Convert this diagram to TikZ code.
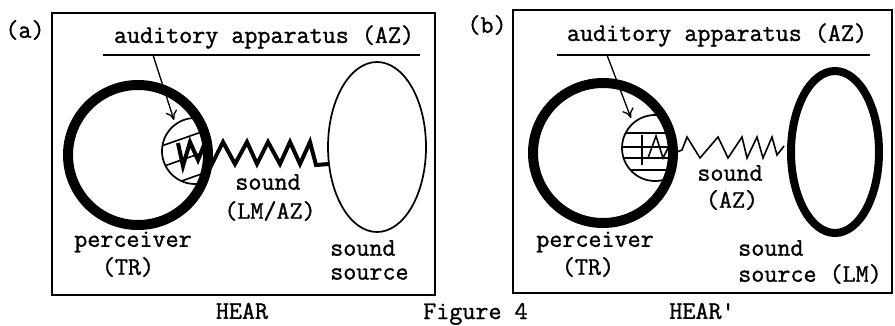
\documentclass[tikz,border=0pt]{standalone}
\usepackage{fontspec}
\newfontfamily\twfont{Latin Modern Mono}[FakeBold=1.2]
\usetikzlibrary{arrows.meta}
\begin{document}
\begin{tikzpicture}[x=0.75pt,y=-0.75pt,
  lbl/.style={font=\twfont\fontsize{19}{21}\selectfont, inner sep=0pt},
  frame/.style={line width=1.8pt},
  uline/.style={line width=1.5pt},
  thickring/.style={line width=7.5pt},
  thinline/.style={line width=1.3pt},
  hatch/.style={line width=1.2pt},
  ptr/.style={line width=1pt,-{To[length=7pt,width=9pt,line width=1pt]}},
  wavea/.style={line width=3pt,line join=miter},
  waveb/.style={line width=1.2pt,line join=miter}]
\useasboundingbox (0,0) rectangle (895,325);

% ---------------- panel (a) ----------------
\node[lbl] (la) at (25,30) {(a)};
\draw[frame] (52,13) rectangle (435,295);
\node[lbl] (aza) at (264,37) {auditory apparatus (AZ)};
\coordinate (ula) at (103,55);
\coordinate (ura) at (420,55);
\draw[uline] (ula) -- (ura);
\coordinate (tra) at (138,155);
\coordinate (hca) at (195,151);
\coordinate (ssa) at (377,147);
\begin{scope}
  \clip (tra) circle[radius=66];
  \draw[thinline] (hca) circle[radius=33];
  \clip (hca) circle[radius=33];
  \foreach \c in {128,150,171,192}
    \draw[hatch] (150,\c) -- (230,\c-28);
\end{scope}
\draw[thickring] (tra) circle[radius=70];
\draw[thinline] (ssa) ellipse[x radius=49, y radius=85];
\coordinate (pa) at (153,55);
\coordinate (ta) at (174,120);
\draw[ptr] (pa) -- (ta);
\draw[wavea] (178,143) -- (183,166) -- (190,142) -- (198,160) -- (204,145)
  -- (212,164) -- (223,142) -- (235,164) -- (247,142) -- (257,164)
  -- (268,142) -- (280,164) -- (290,142) -- (300,164) -- (310,142)
  -- (316,165) -- (329,164);
\node[lbl] (sda) at (268,182) {sound};
\node[lbl] (lma) at (270,211) {(LM/AZ)};
\node[lbl] (pera) at (133,242) {perceiver};
\node[lbl] (tra-l) at (128,267) {(TR)};
\node[lbl,anchor=west] (ss1a) at (330,248) {sound};
\node[lbl,anchor=west] (ss2a) at (330,274) {source};
\node[lbl] (heara) at (242,311) {HEAR};
\node[lbl,anchor=base west] (fig) at (423,319) {Figure 4};

% ---------------- panel (b) ----------------
\node[lbl] (lb) at (487,25) {(b)};
\draw[frame] (513,10) rectangle (892,293);
\node[lbl] (azb) at (717,35) {auditory apparatus (AZ)};
\coordinate (ulb) at (557,55);
\coordinate (urb) at (870,55);
\draw[uline] (ulb) -- (urb);
\coordinate (trb) at (603,153);
\coordinate (hcb) at (655,148);
\coordinate (ssb) at (835,152);
\begin{scope}
  \clip (trb) circle[radius=66];
  \draw[thinline] (hcb) circle[radius=33];
  \clip (hcb) circle[radius=33];
  \foreach \c in {133,147,158,170,182}
    \draw[hatch] (615,\c) -- (700,\c);
  \draw[hatch] (642,135) -- (642,165);
\end{scope}
\draw[thickring] (trb) circle[radius=70];
\draw[line width=6pt] (ssb) ellipse[x radius=44, y radius=81];
\coordinate (pb) at (607,55);
\coordinate (tb) at (631,118);
\draw[ptr] (pb) -- (tb);
\draw[waveb] (648,158) -- (656,136) -- (663,158) -- (671,142) -- (677,152)
  -- (682,150) -- (687,137) -- (700,158) -- (718,137) -- (728,158)
  -- (742,137) -- (747,158) -- (757,137) -- (763,158) -- (772,137)
  -- (777,155) -- (784,146);
\node[lbl] (sdb) at (730,173) {sound};
\node[lbl] (azb2) at (732,200) {(AZ)};
\node[lbl] (perb) at (595,242) {perceiver};
\node[lbl] (trb-l) at (588,267) {(TR)};
\node[lbl,anchor=west] (ss1b) at (738,248) {sound};
\node[lbl,anchor=west] (ss2b) at (738,274) {source (LM)};
\node[lbl] (hearb) at (702,311) {HEAR'};
\end{tikzpicture}
\end{document}
